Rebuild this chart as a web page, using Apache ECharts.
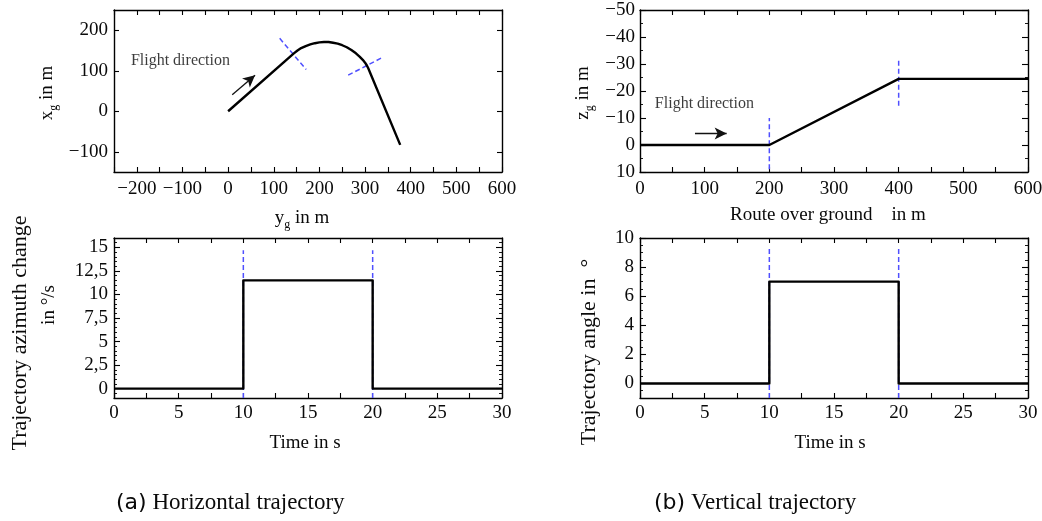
<!DOCTYPE html>
<html>
<head>
<meta charset="utf-8">
<script src="https://cdn.jsdelivr.net/npm/echarts@6/dist/echarts.min.js"></script>
<style>html,body{margin:0;padding:0;background:#fff}#c{width:1042px;height:521px}</style>
</head>
<body>
<div id="c"></div>
<script>
// ---------- data ----------
// (a) top: horizontal trajectory (y_g horizontal, x_g vertical)
const TRAJ_YG = [0, 144, 152, 160, 170, 180, 190, 200, 210, 220, 230, 240, 250, 260, 270, 280, 288, 295, 300, 304, 307, 377];
const TRAJ_XG = [0, 143, 150, 156, 161, 165, 168, 170, 171, 171, 169, 167, 163, 158, 151, 143, 135, 127, 120, 113, 106, -83];
const CUT1_YG = [113, 171], CUT1_XG = [180, 103];
const CUT2_YG = [263, 340], CUT2_XG = [89, 134];
const ARROW_A_YG = [9, 59], ARROW_A_XG = [41, 89];
const LABEL_A = [-213, 124];
// (a) bottom: azimuth rate over time
const TIME = [0, 10, 10, 20, 20, 30];
const AZ_RATE = [0, 0, 11.5, 11.5, 0, 0];
const AZ_MARK_LOW = -1, AZ_MARK_HIGH = 14.7;
// (b) top: vertical trajectory
const ROUTE = [0, 200, 400, 600];
const ZG = [0, 0, -24.5, -24.5];
const ZMARK1 = [200, 9, -10], ZMARK2 = [400, -14.5, -32];
const ARROW_B_X = [85, 134], ARROW_B_Z = [-4.3, -4.3];
const LABEL_B = [23, -15.4];
// (b) bottom: trajectory angle over time
const ANGLE = [0, 0, 7, 7, 0, 0];
const ANG_MARK_LOW = -1, ANG_MARK_HIGH = 9.3;
// tick labels
const TLX_LABELS = [-200, -100, 0, 100, 200, 300, 400, 500, 600];
const TLY_LABELS = [-100, 0, 100, 200];
const TIME_LABELS = [0, 5, 10, 15, 20, 25, 30];
const AZ_LABELS = [0, 2.5, 5, 7.5, 10, 12.5, 15];
const ROUTE_LABELS = [0, 100, 200, 300, 400, 500, 600];
const Z_LABELS = [-50, -40, -30, -20, -10, 0, 10];
const ANG_LABELS = [0, 2, 4, 6, 8, 10];

// ---------- helpers ----------
const SERIF = "'Liberation Serif', 'DejaVu Serif', serif";
const INK = '#0a0a0a';
function range(a, b, s) { const r = []; for (let v = a; v <= b + 1e-9; v += s) r.push(Math.round(v * 1000) / 1000); return r; }
function fmt(v) { return String(v).replace('.', ',').replace('-', '\u2212'); }
function zip(a, b) { return a.map((v, i) => [v, b[i]]); }

const xAxes = [], yAxes = [];
function addAxes(list, dim, grid, o) {
  const mainIdx = list.length;
  const pos = dim === 'x' ? ['bottom', 'top'] : ['left', 'right'];
  const base = {
    type: 'value', gridIndex: grid, min: o.min, max: o.max, interval: o.interval,
    inverse: !!o.inverse, splitLine: { show: false }, axisPointer: { show: false }
  };
  const line = { show: true, onZero: false, lineStyle: { color: '#000', width: 1.4 } };
  const noLine = { show: false, onZero: false };
  const majTick = { show: true, inside: true, length: o.majLen || 5, customValues: o.major, lineStyle: { color: '#000', width: 1.1 } };
  const minTick = { show: true, inside: true, length: 3, customValues: o.minor, lineStyle: { color: '#000', width: 0.9 } };
  list.push(Object.assign({}, base, {
    position: pos[0], axisLine: line, axisTick: majTick,
    axisLabel: { show: true, customValues: o.labels, formatter: fmt, margin: o.margin, color: INK, fontFamily: SERIF, fontSize: 19 }
  }));
  list.push(Object.assign({}, base, { position: pos[1], axisLine: line, axisTick: majTick, axisLabel: { show: false } }));
  if (o.minor) {
    list.push(Object.assign({}, base, { position: pos[0], axisLine: noLine, axisTick: minTick, axisLabel: { show: false } }));
    list.push(Object.assign({}, base, { position: pos[1], axisLine: noLine, axisTick: minTick, axisLabel: { show: false } }));
  }
  return mainIdx;
}

const grids = [
  { left: 114, top: 10, width: 388, height: 162 },
  { left: 114, top: 238, width: 388, height: 160 },
  { left: 640, top: 10, width: 388, height: 162 },
  { left: 640, top: 238, width: 388, height: 160 }
].map(g => Object.assign({ containLabel: false, outerBoundsMode: 'none' }, g));

const x0 = addAxes(xAxes, 'x', 0, { min: -250, max: 600, interval: 50, major: range(-250, 600, 50), labels: TLX_LABELS, margin: 8 });
const y0 = addAxes(yAxes, 'y', 0, { min: -150, max: 250, interval: 50, major: [-100, 0, 100, 200], labels: TLY_LABELS, margin: 6 });
const x1 = addAxes(xAxes, 'x', 1, { min: 0, max: 30, interval: 2.5, major: range(0, 30, 2.5), labels: TIME_LABELS, margin: 6 });
const y1 = addAxes(yAxes, 'y', 1, { min: -1, max: 16, interval: 1, major: range(0, 15, 2.5), minor: range(-1, 16, 0.5), majLen: 6, labels: AZ_LABELS, margin: 6 });
const x2 = addAxes(xAxes, 'x', 2, { min: 0, max: 600, interval: 50, major: range(0, 600, 50), labels: ROUTE_LABELS, margin: 8 });
const y2 = addAxes(yAxes, 'y', 2, { min: -50, max: 10, interval: 10, inverse: true, major: range(-50, 10, 10), minor: range(-50, 10, 5), majLen: 6, labels: Z_LABELS, margin: 5 });
const x3 = addAxes(xAxes, 'x', 3, { min: 0, max: 30, interval: 2.5, major: range(0, 30, 2.5), labels: TIME_LABELS, margin: 6 });
const y3 = addAxes(yAxes, 'y', 3, { min: -1, max: 10, interval: 1, major: range(0, 10, 2), minor: range(-1, 10, 0.5), majLen: 6, labels: ANG_LABELS, margin: 6 });

const BLACK = { color: '#000', width: 2.4, join: 'round' };
const BLUE = { color: '#4f4fff', width: 1.5, type: [5, 3] };
function lineS(xi, yi, data, style, z) {
  return { type: 'line', xAxisIndex: xi, yAxisIndex: yi, data: data, symbol: 'none', lineStyle: style, z: z, silent: true, animation: false };
}
function labelS(xi, yi, pt, text, arrowFrom, arrowTo) {
  return {
    type: 'scatter', xAxisIndex: xi, yAxisIndex: yi, data: [pt], symbolSize: 0, silent: true, animation: false, z: 5,
    label: { show: true, position: 'right', distance: 0, formatter: text, color: INK, fontFamily: SERIF, fontSize: 16 },
    markLine: {
      silent: true, animation: false, symbol: ['none', 'arrow'], symbolSize: [9, 12], label: { show: false },
      lineStyle: { color: '#111', width: 1.3, type: 'solid' },
      data: [[{ coord: arrowFrom }, { coord: arrowTo }]]
    }
  };
}

const series = [
  lineS(x0, y0, zip(CUT1_YG, CUT1_XG), BLUE, 2),
  lineS(x0, y0, zip(CUT2_YG, CUT2_XG), BLUE, 2),
  lineS(x0, y0, zip(TRAJ_YG, TRAJ_XG), BLACK, 3),
  labelS(x0, y0, LABEL_A, 'Flight direction', [ARROW_A_YG[0], ARROW_A_XG[0]], [ARROW_A_YG[1], ARROW_A_XG[1]]),

  lineS(x1, y1, [[10, AZ_MARK_LOW], [10, AZ_MARK_HIGH]], BLUE, 2),
  lineS(x1, y1, [[20, AZ_MARK_LOW], [20, AZ_MARK_HIGH]], BLUE, 2),
  lineS(x1, y1, zip(TIME, AZ_RATE), BLACK, 3),

  lineS(x2, y2, [[ZMARK1[0], ZMARK1[1]], [ZMARK1[0], ZMARK1[2]]], BLUE, 2),
  lineS(x2, y2, [[ZMARK2[0], ZMARK2[1]], [ZMARK2[0], ZMARK2[2]]], BLUE, 2),
  lineS(x2, y2, zip(ROUTE, ZG), BLACK, 3),
  labelS(x2, y2, LABEL_B, 'Flight direction', [ARROW_B_X[0], ARROW_B_Z[0]], [ARROW_B_X[1], ARROW_B_Z[1]]),

  lineS(x3, y3, [[10, ANG_MARK_LOW], [10, ANG_MARK_HIGH]], BLUE, 2),
  lineS(x3, y3, [[20, ANG_MARK_LOW], [20, ANG_MARK_HIGH]], BLUE, 2),
  lineS(x3, y3, zip(TIME, ANGLE), BLACK, 3)
];

// ---------- titles ----------
const RICH = {
  n: { fontFamily: SERIF, fontSize: 19, fill: INK, lineHeight: 26, verticalAlign: 'middle' },
  s: { fontFamily: SERIF, fontSize: 12, fill: INK, lineHeight: 26, verticalAlign: 'bottom' },
  p: { fontFamily: "'DejaVu Sans', sans-serif", fontSize: 22, fill: INK, lineHeight: 28, verticalAlign: 'middle' },
  c: { fontFamily: SERIF, fontSize: 23, fill: INK, lineHeight: 28, verticalAlign: 'middle' }
};
function txt(x, y, text, size, rot, align) {
  return {
    type: 'text', x: x, y: y, rotation: rot ? Math.PI / 2 : 0, silent: true,
    style: {
      text: text, fontFamily: SERIF, fontSize: size, fill: INK,
      align: align || 'center', verticalAlign: 'middle', textAlign: align || 'center', textVerticalAlign: 'middle', rich: RICH
    }
  };
}
const graphics = [
  txt(47, 93, '{n|x}{s|g}{n| in m}', 19, true),
  txt(302, 218, '{n|y}{s|g}{n| in m}', 19, false),
  txt(20, 333, 'Trajectory azimuth change', 22, true),
  txt(49, 305, 'in \u00b0/s', 19, true),
  txt(305, 443, 'Time in s', 19, false),
  txt(583, 93, '{n|z}{s|g}{n| in m}', 19, true),
  txt(828, 215, 'Route over ground    in m', 19, false),
  txt(589, 352, 'Trajectory angle in  \u00b0', 22, true),
  txt(830, 443, 'Time in s', 19, false),
  txt(116, 503, '{p|(a)}{c| Horizontal trajectory}', 23, false, 'left'),
  txt(654, 503, '{p|(b)}{c| Vertical trajectory}', 23, false, 'left')
];

const chart = echarts.init(document.getElementById('c'), null, { renderer: 'canvas' });
chart.setOption({
  animation: false,
  backgroundColor: '#fff',
  grid: grids,
  xAxis: xAxes,
  yAxis: yAxes,
  series: series,
  graphic: graphics
});
</script>
</body>
</html>
